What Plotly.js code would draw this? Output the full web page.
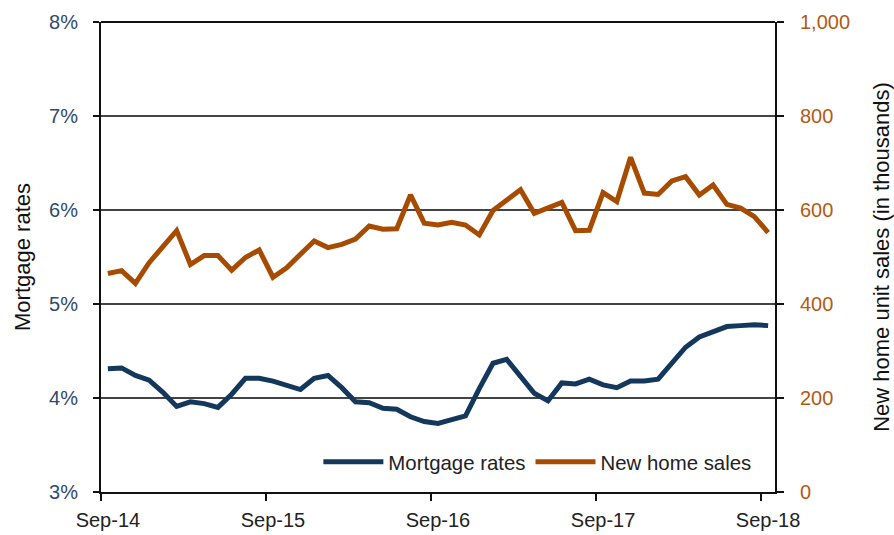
<!DOCTYPE html>
<html>
<head>
<meta charset="utf-8">
<script src="https://cdn.plot.ly/plotly-3.0.1.min.js"></script>
<style>html,body{margin:0;padding:0;background:#fff;}#chart{width:894px;height:535px;}</style>
</head>
<body>
<div id="chart"></div>
<script>
const months = ["Sep-14","Oct-14","Nov-14","Dec-14","Jan-15","Feb-15","Mar-15","Apr-15","May-15","Jun-15","Jul-15","Aug-15",
"Sep-15","Oct-15","Nov-15","Dec-15","Jan-16","Feb-16","Mar-16","Apr-16","May-16","Jun-16","Jul-16","Aug-16",
"Sep-16","Oct-16","Nov-16","Dec-16","Jan-17","Feb-17","Mar-17","Apr-17","May-17","Jun-17","Jul-17","Aug-17",
"Sep-17","Oct-17","Nov-17","Dec-17","Jan-18","Feb-18","Mar-18","Apr-18","May-18","Jun-18","Jul-18","Aug-18","Sep-18"];

const mortgageRates = [4.31,4.32,4.24,4.19,4.06,3.91,3.96,3.94,3.90,4.04,4.21,4.21,
4.18,4.13,4.09,4.21,4.24,4.11,3.96,3.95,3.89,3.88,3.80,3.75,
3.73,3.77,3.81,4.10,4.37,4.41,4.24,4.05,3.97,4.16,4.15,4.20,
4.14,4.11,4.18,4.18,4.20,4.37,4.54,4.65,4.71,4.76,4.77,4.78,4.77];

const newHomeSales = [465,471,444,488,522,556,484,503,503,472,499,515,
457,477,506,534,520,527,538,566,559,560,632,572,
568,574,568,547,599,621,643,593,605,616,556,557,
637,618,712,636,633,662,671,632,653,612,604,586,552];

const yearTicks = ["Sep-14","Sep-15","Sep-16","Sep-17","Sep-18"];
const leftTicks = [3,4,5,6,7,8];
const leftTickText = ["3%","4%","5%","6%","7%","8%"];
const rightTicks = [0,200,400,600,800,1000];
const rightTickText = ["0","200","400","600","800","1,000"];

const xIdx = months.map((m, i) => i);
const labelPos = yearTicks.map(t => months.indexOf(t));
const tickPos = labelPos.map(p => p - 0.5);

const FONT = '"Liberation Sans", Arial, sans-serif';
const BLUE = '#13385c';
const ORANGE = '#a64b00';

const traces = [
  {x: xIdx, y: mortgageRates, name: 'Mortgage rates', type: 'scatter', mode: 'lines',
   line: {color: BLUE, width: 5}, yaxis: 'y'},
  {x: xIdx, y: newHomeSales, name: 'New home sales', type: 'scatter', mode: 'lines',
   line: {color: ORANGE, width: 5}, yaxis: 'y2'}
];

const layout = {
  width: 894, height: 535,
  margin: {l: 101, r: 119, t: 22, b: 43},
  paper_bgcolor: '#fff', plot_bgcolor: '#fff',
  font: {family: FONT, size: 20, color: '#222'},
  showlegend: true,
  legend: {orientation: 'h', x: 0.3225, y: 0.064, xanchor: 'left', yanchor: 'middle',
           font: {family: FONT, size: 20.4, color: '#222'}, bgcolor: 'rgba(0,0,0,0)',
           itemwidth: 60, tracegroupgap: 0},
  xaxis: {range: [-0.5, 48.5], tickvals: labelPos, ticktext: yearTicks,
          showgrid: false, zeroline: false, showline: true, linecolor: '#111', linewidth: 2,
          ticks: '', ticklabelstandoff: 9,
          minor: {tickmode: 'array', tickvals: tickPos, ticks: 'outside', ticklen: 7,
                  tickcolor: '#111', tickwidth: 1.5, showgrid: false},
          tickfont: {family: FONT, size: 20, color: '#222'}},
  yaxis: {range: [3, 8], tickvals: leftTicks, ticktext: leftTickText,
          showgrid: true, gridcolor: '#444', gridwidth: 1.3, zeroline: false,
          showline: true, linecolor: '#111', linewidth: 2,
          ticks: 'outside', ticklen: 6, tickcolor: '#111', tickwidth: 1.5,
          ticklabelstandoff: 11,
          tickfont: {family: FONT, size: 20, color: '#2f4a6c'},
          title: {text: 'Mortgage rates', font: {family: FONT, size: 22, color: '#111'}, standoff: 12}},
  yaxis2: {range: [0, 1000], tickvals: rightTicks, ticktext: rightTickText,
           overlaying: 'y', side: 'right', showgrid: false, zeroline: false,
           showline: true, linecolor: '#111', linewidth: 2,
           ticks: 'outside', ticklen: 7, tickcolor: '#111', tickwidth: 1.5,
           ticklabelstandoff: 12,
           tickfont: {family: FONT, size: 20, color: '#b35a14'},
           title: {text: 'New home unit sales (in thousands)', font: {family: FONT, size: 22, color: '#111'}, standoff: 25}},
  shapes: [{type: 'line', xref: 'paper', yref: 'paper', x0: 0, x1: 1, y0: 1, y1: 1,
            line: {color: '#111', width: 2}}]
};

Plotly.newPlot('chart', traces, layout, {displayModeBar: false, staticPlot: true});
</script>
</body>
</html>
